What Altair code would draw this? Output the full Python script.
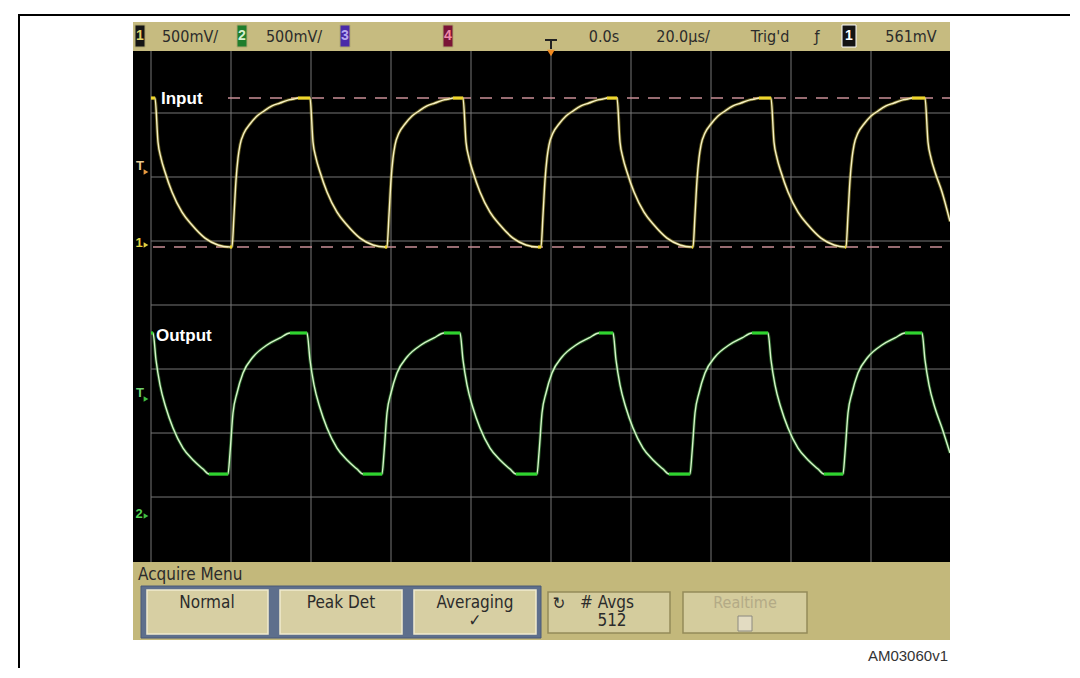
import altair as alt
import pandas as pd

# ---------------- scope settings ----------------
TIME_PER_DIV = 20.0      # µs / div
VOLTS_PER_DIV = 0.5      # V / div (both channels)
CH1_GROUND = 0.906       # channel 1 ground marker, in divisions from centre
CH2_GROUND = -3.281      # channel 2 ground marker, in divisions from centre

# ---------------- trace data (time in µs, level in V) ----------------
input_time = [
    -100, -99, -98.25, -97.5, -96.5, -94.75, -92.25, -89.75, -86.5, -83.25, -80.25,
    -79.75, -79.25, -78.75, -78.25, -77.75, -76.75, -75.25, -73.5, -71.75, -69.75, -67.75, -65.75, -64.25, -63.25,
    -60.25, -59.5, -58.75, -57.75, -56.0, -53.5, -51.0, -47.75, -44.5, -41.5,
    -41, -40.5, -40, -39.5, -39, -38, -36.5, -34.75, -33, -31, -29, -27, -25.5, -24.5,
    -22, -21.25, -20.5, -19.5, -17.75, -15.25, -12.75, -9.5, -6.25, -3.25,
    -2.5, -2, -1.5, -1, -0.5, 0.5, 2, 3.75, 5.5, 7.5, 9.5, 11.5, 13, 14,
    16.5, 17.25, 18, 19, 20.75, 23.25, 25.75, 29, 32.25, 35.25,
    35.5, 36, 36.5, 37, 37.5, 38.5, 40, 41.75, 43.5, 45.5, 47.5, 49.5, 51, 52,
    55, 55.75, 56.5, 57.5, 59.25, 61.75, 64.25, 67.5, 70.75, 73.5,
    73.75, 74.25, 74.75, 75.25, 75.75, 76.75, 78.25, 80, 81.75, 83.75, 85.75, 87.75, 89.25, 90.25,
    93.5, 94.25, 95, 96, 97.75, 99.75,
]
input_volts = [
    1.164, 1.164, 0.820, 0.695, 0.586, 0.430, 0.273, 0.172, 0.070, 0.016, 0.0,
    0.0, 0.250, 0.523, 0.695, 0.797, 0.891, 0.961, 1.023, 1.063, 1.102, 1.125, 1.148, 1.156, 1.164,
    1.164, 0.820, 0.695, 0.586, 0.430, 0.273, 0.172, 0.070, 0.016, 0.0,
    0.0, 0.250, 0.523, 0.695, 0.797, 0.891, 0.961, 1.023, 1.063, 1.102, 1.125, 1.148, 1.156, 1.164,
    1.164, 0.820, 0.695, 0.586, 0.430, 0.273, 0.172, 0.070, 0.016, 0.0,
    0.0, 0.250, 0.523, 0.695, 0.797, 0.891, 0.961, 1.023, 1.063, 1.102, 1.125, 1.148, 1.156, 1.164,
    1.164, 0.820, 0.695, 0.586, 0.430, 0.273, 0.172, 0.070, 0.016, 0.0,
    0.0, 0.250, 0.523, 0.695, 0.797, 0.891, 0.961, 1.023, 1.063, 1.102, 1.125, 1.148, 1.156, 1.164,
    1.164, 0.820, 0.695, 0.586, 0.430, 0.273, 0.172, 0.070, 0.016, 0.0,
    0.0, 0.250, 0.523, 0.695, 0.797, 0.891, 0.961, 1.023, 1.063, 1.102, 1.125, 1.148, 1.156, 1.164,
    1.164, 0.820, 0.695, 0.586, 0.430, 0.200,
]
output_time = [
    -100, -99.5, -98.75, -97.75, -96.25, -94.5, -92, -89.5, -87, -85.5,
    -80.75, -80.25, -79.5, -78.5, -77, -74.5, -71, -67.75, -65.25,
    -61, -60.25, -59.25, -57.75, -56, -53.5, -51, -48.5, -47,
    -42.25, -41.75, -41, -40, -38.5, -36, -32.5, -29.25, -26.75,
    -22.75, -22, -21, -19.5, -17.75, -15.25, -12.75, -10.25, -8.75,
    -3.5, -3, -2.25, -1.25, 0.25, 2.75, 6.25, 9.5, 12,
    15.5, 16.25, 17.25, 18.75, 20.5, 23, 25.5, 28, 29.5,
    34.75, 35.25, 36, 37, 38.5, 41, 44.5, 47.75, 50.25,
    54.25, 55, 56, 57.5, 59.25, 61.75, 64.25, 66.75, 68.25,
    73, 73.5, 74.25, 75.25, 76.75, 79.25, 82.75, 86, 88.5,
    92.75, 93.5, 94.5, 96, 97.75, 99.75,
]
output_volts = [
    1.422, 1.422, 1.211, 1.016, 0.836, 0.680, 0.523, 0.430, 0.359, 0.320,
    0.320, 0.484, 0.797, 0.953, 1.109, 1.234, 1.328, 1.383, 1.422,
    1.422, 1.211, 1.016, 0.836, 0.680, 0.523, 0.430, 0.359, 0.320,
    0.320, 0.484, 0.797, 0.953, 1.109, 1.234, 1.328, 1.383, 1.422,
    1.422, 1.211, 1.016, 0.836, 0.680, 0.523, 0.430, 0.359, 0.320,
    0.320, 0.484, 0.797, 0.953, 1.109, 1.234, 1.328, 1.383, 1.422,
    1.422, 1.211, 1.016, 0.836, 0.680, 0.523, 0.430, 0.359, 0.320,
    0.320, 0.484, 0.797, 0.953, 1.109, 1.234, 1.328, 1.383, 1.422,
    1.422, 1.211, 1.016, 0.836, 0.680, 0.523, 0.430, 0.359, 0.320,
    0.320, 0.484, 0.797, 0.953, 1.109, 1.234, 1.328, 1.383, 1.422,
    1.422, 1.211, 1.016, 0.836, 0.680, 0.484,
]
ch1_marker_levels = [1.164, 0.0]       # dashed cursors on the input
vertical_grid_times = [-100, -80, -60, -40, -20, 0, 20, 40, 60, 80]
horizontal_grid_divs = [3, 2, 1, 0, -1, -2, -3]

status_texts = ["500mV/", "500mV/", "0.0s", "20.0µs/", "Trig'd", "561mV"]
channel_tags = ["1", "2", "3", "4", "1"]
menu_title = "Acquire Menu"
button_labels = ["Normal", "Peak Det", "Averaging", "# Avgs", "Realtime"]
button_sublabels = ["✓", "512"]
trace_labels = ["Input", "Output"]
figure_id = "AM03060v1"

# ---------------- screen geometry helpers ----------------
X_DOM = [-104.5, 99.75]
Y_DOM = [-5.234, 4.422]
FONT_N = "Liberation Sans Narrow, DejaVu Sans Condensed, Liberation Sans, sans-serif"
FONT = "Liberation Sans, Arial, sans-serif"


def sx(px):
    return (px - 551) / 80 * TIME_PER_DIV


def sy(py):
    return (305 - py) / 64


xs = alt.Scale(domain=X_DOM, nice=False, zero=False)
ys = alt.Scale(domain=Y_DOM, nice=False, zero=False)


def X(f):
    return alt.X(f, type="quantitative", scale=xs, axis=None)


def Y(f):
    return alt.Y(f, type="quantitative", scale=ys, axis=None)


def rect_layer(rows):
    df = pd.DataFrame(rows, columns=["x1", "x2", "y1", "y2", "fill", "stroke", "sw"])
    return alt.Chart(df).mark_rect(clip=False).encode(
        x=X("x1"), x2="x2", y=Y("y1"), y2="y2",
        color=alt.Color("fill:N", scale=None),
        stroke=alt.Stroke("stroke:N", scale=None),
        strokeWidth=alt.StrokeWidth("sw:Q", scale=None),
    )


def rule_layer(rows, dash=None, clip=False):
    df = pd.DataFrame(rows, columns=["x1", "x2", "y1", "y2", "c", "w"])
    kw = dict(clip=clip)
    if dash:
        kw["strokeDash"] = dash
    return alt.Chart(df).mark_rule(**kw).encode(
        x=X("x1"), x2="x2", y=Y("y1"), y2="y2",
        color=alt.Color("c:N", scale=None),
        strokeWidth=alt.StrokeWidth("w:Q", scale=None),
    )


def text_layer(rows, align="center", font=FONT_N, weight="normal"):
    df = pd.DataFrame(rows, columns=["x", "y", "text", "c", "s"])
    return alt.Chart(df).mark_text(
        align=align, baseline="middle", font=font, fontWeight=weight, clip=False
    ).encode(
        x=X("x"), y=Y("y"), text="text:N",
        color=alt.Color("c:N", scale=None),
        size=alt.Size("s:Q", scale=None),
    )


# ---------------- traces to screen divisions ----------------
inp = pd.DataFrame({"t": input_time, "v": input_volts})
inp["d"] = CH1_GROUND + inp["v"] / VOLTS_PER_DIV
inp["i"] = range(len(inp))
out = pd.DataFrame({"t": output_time, "v": output_volts})
out["d"] = CH2_GROUND + out["v"] / VOLTS_PER_DIV
out["i"] = range(len(out))


def flats(df):
    rows = []
    for a, b in zip(df.itertuples(), list(df.itertuples())[1:]):
        if a.v == b.v and b.t > a.t:
            rows.append((a.t, b.t, a.d))
    return pd.DataFrame(rows, columns=["t", "t2", "d"])


def trace(df, core, halo, flat_color):
    halo_l = alt.Chart(df).mark_line(color=halo, strokeWidth=3.2, opacity=0.45, clip=True,
                                     interpolate="monotone").encode(
        x=X("t"), y=Y("d"), order="i:Q")
    core_l = alt.Chart(df).mark_line(color=core, strokeWidth=1.4, clip=True,
                                     interpolate="monotone").encode(
        x=X("t"), y=Y("d"), order="i:Q")
    flat_l = alt.Chart(flats(df)).mark_rule(color=flat_color, strokeWidth=3, clip=True).encode(
        x=X("t"), x2="t2", y=Y("d"))
    return [halo_l, core_l, flat_l]


# ---------------- screen chrome ----------------
BAR = "#c6bb80"
MENU = "#c3b87b"
background = rect_layer([
    (sx(133), sx(950), sy(22), sy(640), "#000000", "#000000", 0),
    (sx(133), sx(950), sy(22), sy(51), BAR, BAR, 0),
    (sx(133), sx(950), sy(562), sy(640), MENU, MENU, 0),
    (sx(141), sx(541), sy(586), sy(638), "#5e6f8c", "#4a5a78", 1),
    (sx(147), sx(268), sy(590), sy(634), "#d7cfa3", "#f1ebcf", 1.5),
    (sx(280), sx(402), sy(590), sy(634), "#d7cfa3", "#f1ebcf", 1.5),
    (sx(414), sx(536), sy(590), sy(634), "#d7cfa3", "#f1ebcf", 1.5),
    (sx(548), sx(670), sy(592), sy(633), "#d4cc9d", "#948a5a", 1.5),
    (sx(683), sx(807), sy(592), sy(633), "#d4cc9d", "#948a5a", 1.5),
    (sx(738), sx(752), sy(616), sy(631), "#e3dcc2", "#8c8a80", 1),
    # channel tags in the status bar
    (sx(135), sx(145), sy(25), sy(47), "#141414", "#b0a870", 1),
    (sx(237), sx(247), sy(25), sy(47), "#1f7d2c", "#b0a870", 1),
    (sx(340), sx(350), sy(25), sy(47), "#4a2aa8", "#b0a870", 1),
    (sx(443), sx(453), sy(25), sy(47), "#7a1436", "#b0a870", 1),
    (sx(842), sx(856), sy(25), sy(47), "#141414", "#ffffff", 1),
])

grid_rows = [(sx(551) + t, sx(551) + t, sy(51), sy(562), "#777777", 1) for t in vertical_grid_times]
grid_rows += [(sx(151), X_DOM[1], d, d, "#777777", 1) for d in horizontal_grid_divs]
grid = rule_layer(grid_rows, clip=True)

cursor_rows = [
    (sx(228), X_DOM[1], CH1_GROUND + ch1_marker_levels[0] / VOLTS_PER_DIV,
     CH1_GROUND + ch1_marker_levels[0] / VOLTS_PER_DIV, "#c98e96", 1.5),
    (sx(153), X_DOM[1], CH1_GROUND + ch1_marker_levels[1] / VOLTS_PER_DIV,
     CH1_GROUND + ch1_marker_levels[1] / VOLTS_PER_DIV, "#c98e96", 1.5),
]
cursors = rule_layer(cursor_rows, dash=[12, 9], clip=True)

trig_symbol = rule_layer([
    (sx(545), sx(557), sy(40), sy(40), "#222222", 2),
    (sx(551), sx(551), sy(40), sy(49), "#222222", 2),
])
border = rule_layer([
    (sx(19), sx(19), sy(15), sy(680), "#000000", 2),
    (sx(18), sx(1080), sy(15), sy(15), "#000000", 2),
])

markers = pd.DataFrame([
    (sx(551), sy(53), "#f08a20", "triangle-down", 60),
    (sx(146), sy(172), "#e89a40", "triangle-right", 30),
    (sx(146), sy(245), "#e0d040", "triangle-right", 30),
    (sx(146), sy(399), "#40c040", "triangle-right", 30),
    (sx(146), sy(516), "#40c040", "triangle-right", 30),
], columns=["x", "y", "c", "shape", "s"])
marker_layer = alt.Chart(markers).mark_point(filled=True, opacity=1, clip=False).encode(
    x=X("x"), y=Y("y"),
    color=alt.Color("c:N", scale=None),
    shape=alt.Shape("shape:N", scale=None),
    size=alt.Size("s:Q", scale=None),
)

DARK = "#2b2b2b"
status_text = text_layer([
    (sx(190), sy(37), status_texts[0], DARK, 16),
    (sx(294), sy(37), status_texts[1], DARK, 16),
    (sx(604), sy(37), status_texts[2], DARK, 16),
    (sx(683), sy(37), status_texts[3], DARK, 16),
    (sx(770), sy(37), status_texts[4], DARK, 16),
    (sx(817), sy(37), "ƒ", DARK, 16),
    (sx(911), sy(37), status_texts[5], DARK, 16),
])
tag_text = text_layer([
    (sx(140), sy(36), channel_tags[0], "#e0d46a", 14),
    (sx(242), sy(36), channel_tags[1], "#d8f0d0", 14),
    (sx(345), sy(36), channel_tags[2], "#b8a8f0", 14),
    (sx(448), sy(36), channel_tags[3], "#f08aa8", 14),
    (sx(849), sy(36), channel_tags[4], "#ffffff", 14),
], font=FONT, weight="bold")
side_text = text_layer([
    (sx(140), sy(166), "T", "#e8c890", 13),
    (sx(139), sy(243), "1", "#e0d040", 13),
    (sx(140), sy(393), "T", "#70d070", 13),
    (sx(139), sy(514), "2", "#50d050", 13),
], font=FONT, weight="bold")
menu_text_left = text_layer([
    (sx(138), sy(575), menu_title, DARK, 17),
], align="left")
menu_text = text_layer([
    (sx(207), sy(603), button_labels[0], DARK, 17),
    (sx(341), sy(603), button_labels[1], DARK, 17),
    (sx(475), sy(603), button_labels[2], DARK, 17),
    (sx(475), sy(621), button_sublabels[0], DARK, 17),
    (sx(559), sy(604), "↻", DARK, 17),
    (sx(607), sy(603), button_labels[3], DARK, 17),
    (sx(612), sy(621), button_sublabels[1], DARK, 17),
    (sx(745), sy(603), button_labels[4], "#b3aa86", 16),
])
label_text = text_layer([
    (sx(161), sy(99), trace_labels[0], "#ffffff", 17),
    (sx(156), sy(336), trace_labels[1], "#ffffff", 17),
], align="left", font=FONT, weight="bold")
id_text = text_layer([
    (sx(948), sy(656), figure_id, "#333333", 15),
], align="right", font=FONT)

layers = [background, grid, cursors]
layers += trace(inp, "#f7f1c4", "#c8b838", "#efd62c")
layers += trace(out, "#d6f4c8", "#48b848", "#2ed42e")
layers += [trig_symbol, marker_layer, status_text, tag_text, side_text,
           menu_text_left, menu_text, label_text, id_text, border]

chart = alt.layer(*layers).properties(
    width=817,
    height=618,
    autosize=alt.AutoSizeParams(type="none"),
    padding={"left": 125, "top": 14, "right": 120, "bottom": 28},
    background="#ffffff",
).configure_view(strokeWidth=0)

chart.save("out.html", embed_options={"renderer": "svg", "actions": False})
